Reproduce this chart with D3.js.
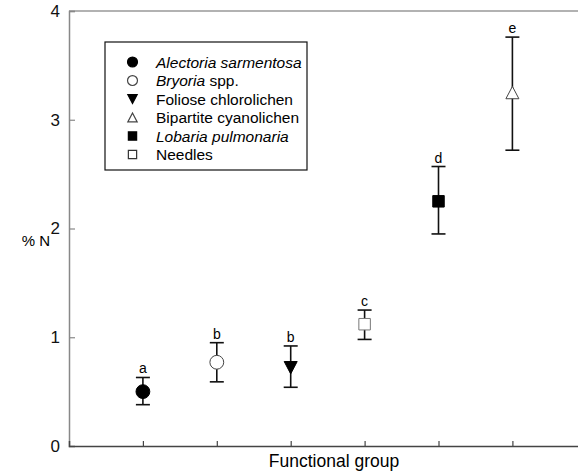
<!DOCTYPE html>
<html>
<head>
<meta charset="utf-8">
<script src="https://cdn.jsdelivr.net/npm/d3@7"></script>
<style>
  body { margin: 0; background: #fff; }
  svg { display: block; font-family: Arial, "Liberation Sans", sans-serif; }
</style>
</head>
<body>
<div id="chart"></div>
<script>
'use strict'

// order along the x axis
let groups = ["Alectoria sarmentosa", "Bryoria spp.", "Foliose chlorolichen", "Needles", "Lobaria pulmonaria", "Bipartite cyanolichen"]
let means = [0.50, 0.77, 0.72, 1.12, 2.25, 3.25]
let lower = [0.38, 0.59, 0.54, 0.98, 1.95, 2.72]
let upper = [0.63, 0.95, 0.92, 1.25, 2.57, 3.76]
let letters = ["a", "b", "b", "c", "d", "e"]
let yTicks = [0, 1, 2, 3, 4]

// legend order
let legendNames = ["Alectoria sarmentosa", "Bryoria spp.", "Foliose chlorolichen", "Bipartite cyanolichen", "Lobaria pulmonaria", "Needles"]
let legendItalic = ["Alectoria sarmentosa", "Bryoria", "", "", "Lobaria pulmonaria", ""]

let symbolStyle = {
	"Alectoria sarmentosa": { type: d3.symbolCircle, size: 150, fill: "#000", stroke: "#000" },
	"Bryoria spp.": { type: d3.symbolCircle, size: 150, fill: "#fff", stroke: "#444" },
	"Foliose chlorolichen": { type: "down", size: 13, fill: "#000", stroke: "#000" },
	"Bipartite cyanolichen": { type: "up", size: 13, fill: "#fff", stroke: "#444" },
	"Lobaria pulmonaria": { type: d3.symbolSquare, size: 132, fill: "#000", stroke: "#000" },
	"Needles": { type: d3.symbolSquare, size: 132, fill: "#fff", stroke: "#777" }
}

function symbolPath(name, scale) {
	let s = symbolStyle[name]
	if (s.type === "down" || s.type === "up") {
		let w = s.size * scale / 2
		let h = s.size * scale * 0.95
		if (s.type === "down") return "M" + (-w) + "," + (-h / 2) + "L" + w + "," + (-h / 2) + "L0," + (h / 2) + "Z"
		return "M" + (-w) + "," + (h / 2) + "L" + w + "," + (h / 2) + "L0," + (-h / 2) + "Z"
	}
	return d3.symbol().type(s.type).size(s.size * scale * scale)()
}

let width = 578, height = 473
let padding = { left: 69, top: 11, bottom: 27 }

let svg = d3.select("#chart").append("svg")
	.attr("width", width)
	.attr("height", height)

let xScale = d3.scaleLinear().domain([0, 7]).range([padding.left, padding.left + 7 * 73.9])
let yScale = d3.scaleLinear().domain([0, 4]).range([height - padding.bottom, padding.top])

// top frame line
svg.append("line")
	.attr("x1", padding.left).attr("x2", width)
	.attr("y1", yScale(4)).attr("y2", yScale(4))
	.attr("stroke", "#999").attr("stroke-width", 1.5)

// left axis
let yAxis = svg.append("g")
	.attr("transform", "translate(" + padding.left + ",0)")
	.call(d3.axisLeft(yScale).tickValues(yTicks).tickSize(-6).tickPadding(9).tickFormat(d3.format("d")))
yAxis.select(".domain").attr("stroke", "#888").attr("stroke-width", 1.5)
yAxis.selectAll(".tick line").attr("stroke", "#888").attr("stroke-width", 1.2)
yAxis.selectAll(".tick text").attr("font-size", 17).attr("fill", "#111").attr("font-family", "Arial, 'Liberation Sans', sans-serif")

// bottom axis
let xAxis = svg.append("g")
	.attr("transform", "translate(0," + yScale(0) + ")")
	.call(d3.axisBottom(xScale).tickValues([1, 2, 3, 4, 5, 6]).tickSize(-5).tickFormat(""))
xAxis.select(".domain").attr("stroke", "#444").attr("stroke-width", 1.5)
xAxis.selectAll(".tick line").attr("stroke", "#444").attr("stroke-width", 1.2)

// axis titles
svg.append("text")
	.attr("x", 36).attr("y", 246)
	.attr("text-anchor", "middle")
	.attr("font-size", 15)
	.text("% N")

svg.append("text")
	.attr("x", 334).attr("y", 467)
	.attr("text-anchor", "middle")
	.attr("font-size", 17.5)
	.text("Functional group")

// error bars
let pts = svg.append("g")
let idx = d3.range(groups.length)

pts.selectAll(".err").data(idx).enter().append("line")
	.attr("class", "err")
	.attr("x1", function(i) { return xScale(i + 1) })
	.attr("x2", function(i) { return xScale(i + 1) })
	.attr("y1", function(i) { return yScale(lower[i]) })
	.attr("y2", function(i) { return yScale(upper[i]) })
	.attr("stroke", "#111").attr("stroke-width", 1.6)

pts.selectAll(".capTop").data(idx).enter().append("line")
	.attr("x1", function(i) { return xScale(i + 1) - 7 })
	.attr("x2", function(i) { return xScale(i + 1) + 7 })
	.attr("y1", function(i) { return yScale(upper[i]) })
	.attr("y2", function(i) { return yScale(upper[i]) })
	.attr("stroke", "#111").attr("stroke-width", 1.6)

pts.selectAll(".capBot").data(idx).enter().append("line")
	.attr("x1", function(i) { return xScale(i + 1) - 7 })
	.attr("x2", function(i) { return xScale(i + 1) + 7 })
	.attr("y1", function(i) { return yScale(lower[i]) })
	.attr("y2", function(i) { return yScale(lower[i]) })
	.attr("stroke", "#111").attr("stroke-width", 1.6)

// markers
pts.selectAll(".mark").data(idx).enter().append("path")
	.attr("transform", function(i) { return "translate(" + xScale(i + 1) + "," + yScale(means[i]) + ")" })
	.attr("d", function(i) { return symbolPath(groups[i], 1) })
	.attr("fill", function(i) { return symbolStyle[groups[i]].fill })
	.attr("stroke", function(i) { return symbolStyle[groups[i]].stroke })
	.attr("stroke-width", 1)

// significance letters
pts.selectAll(".letter").data(idx).enter().append("text")
	.attr("x", function(i) { return xScale(i + 1) })
	.attr("y", function(i) { return yScale(upper[i]) - 4 })
	.attr("text-anchor", "middle")
	.attr("font-size", 14)
	.text(function(i) { return letters[i] })

// legend
let legend = svg.append("g")
legend.append("rect")
	.attr("x", 105).attr("y", 42)
	.attr("width", 202).attr("height", 128)
	.attr("fill", "#fff").attr("stroke", "#111").attr("stroke-width", 1.2)

let rows = legend.selectAll(".row").data(legendNames).enter().append("g")
	.attr("transform", function(d, i) { return "translate(0," + (62 + i * 18.5) + ")" })

rows.append("path")
	.attr("transform", "translate(132.5,0)")
	.attr("d", function(d) { return symbolPath(d, 0.72) })
	.attr("fill", function(d) { return symbolStyle[d].fill })
	.attr("stroke", function(d) { return symbolStyle[d].stroke === "#777" ? "#333" : symbolStyle[d].stroke })
	.attr("stroke-width", 1.2)

rows.append("text")
	.attr("x", 156).attr("y", 5.5)
	.attr("font-size", 15.5)
	.each(function(d, i) {
		let t = d3.select(this)
		let it = legendItalic[i]
		if (it) {
			t.append("tspan").attr("font-style", "italic").text(it)
			if (d.length > it.length) t.append("tspan").text(d.slice(it.length))
		} else {
			t.text(d)
		}
	})
</script>
</body>
</html>
